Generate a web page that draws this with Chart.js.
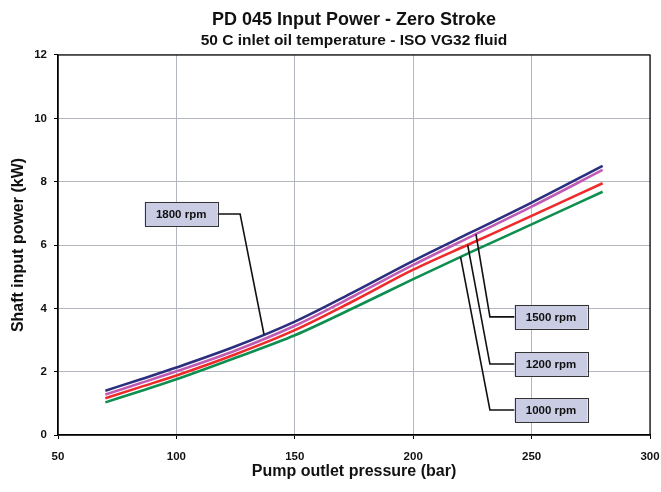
<!DOCTYPE html>
<html>
<head>
<meta charset="utf-8">
<script src="https://cdn.jsdelivr.net/npm/chart.js@4.4.1/dist/chart.umd.min.js"></script>
<style>
  html, body { margin: 0; padding: 0; background: #fff; }
  #wrap { width: 661px; height: 492px; }
</style>
</head>
<body>
<div id="wrap"><canvas id="c" width="661" height="492"></canvas></div>
<script>
// Pump outlet pressure (bar)
const pressure = [70, 85, 100, 125, 150, 175, 200, 225, 250, 280];
// Shaft input power (kW)
const rpm1800 = [1.40, 1.76, 2.13, 2.80, 3.58, 4.52, 5.50, 6.42, 7.34, 8.50];
const rpm1500 = [1.28, 1.64, 2.01, 2.67, 3.45, 4.39, 5.37, 6.29, 7.21, 8.37];
const rpm1200 = [1.16, 1.52, 1.88, 2.55, 3.31, 4.24, 5.22, 6.07, 6.92, 7.95];
const rpm1000 = [1.03, 1.39, 1.76, 2.44, 3.15, 4.02, 4.92, 5.80, 6.65, 7.68];
const seriesNames = ['1800 rpm', '1500 rpm', '1200 rpm', '1000 rpm'];
const xTicks = [50, 100, 150, 200, 250, 300];
const yTicks = [0, 2, 4, 6, 8, 10, 12];

const FONT = '"Liberation Sans", Arial, sans-serif';
const colors = ['#2b2f7e', '#c05bb4', '#ee2a2a', '#0f8f4f'];
const seriesValues = [rpm1800, rpm1500, rpm1200, rpm1000];

// Callout label placement (data units)
const callouts = [
  { series: 0, anchorX: 137,   elbowX: 126.9, boxX: 102,   boxY: 6.98 },
  { series: 1, anchorX: 226.5, elbowX: 232.4, boxX: 258.2, boxY: 3.73 },
  { series: 2, anchorX: 223,   elbowX: 232.4, boxX: 258.2, boxY: 2.24 },
  { series: 3, anchorX: 220,   elbowX: 232.4, boxX: 258.2, boxY: 0.79 }
];

function interp(xs, ys, x) {
  for (let i = 0; i < xs.length - 1; i++) {
    if (x >= xs[i] && x <= xs[i + 1]) {
      const t = (x - xs[i]) / (xs[i + 1] - xs[i]);
      return ys[i] + t * (ys[i + 1] - ys[i]);
    }
  }
  return ys[ys.length - 1];
}

const datasets = seriesValues.map((vals, i) => ({
  label: seriesNames[i],
  data: pressure.map((p, j) => ({ x: p, y: vals[j] })),
  borderColor: colors[i],
  borderWidth: 2.6,
  pointRadius: 0,
  fill: false,
  cubicInterpolationMode: 'monotone',
  order: i
})).reverse();

const framePlugin = {
  id: 'frame',
  afterDatasetsDraw(chart) {
    const { ctx, chartArea: a } = chart;
    ctx.save();
    ctx.strokeStyle = '#000';
    ctx.lineWidth = 1.2;
    ctx.strokeRect(a.left, a.top, a.right - a.left, a.bottom - a.top);
    ctx.restore();
  }
};

const calloutPlugin = {
  id: 'callouts',
  afterDatasetsDraw(chart) {
    const { ctx, scales: { x, y } } = chart;
    ctx.save();
    callouts.forEach(c => {
      const ax = x.getPixelForValue(c.anchorX);
      const ay = y.getPixelForValue(interp(pressure, seriesValues[c.series], c.anchorX));
      const bx = x.getPixelForValue(c.boxX);
      const by = y.getPixelForValue(c.boxY);
      const ex = x.getPixelForValue(c.elbowX);
      const w = 73, h = 24;
      const edgeX = ex > bx ? bx + w / 2 : bx - w / 2;
      ctx.strokeStyle = '#111';
      ctx.lineWidth = 1.6;
      ctx.beginPath();
      ctx.moveTo(edgeX, by);
      ctx.lineTo(ex, by);
      ctx.lineTo(ax, ay);
      ctx.stroke();
      ctx.fillStyle = '#c9cce3';
      ctx.fillRect(bx - w / 2, by - h / 2, w, h);
      ctx.strokeStyle = '#333';
      ctx.lineWidth = 1;
      ctx.strokeRect(Math.round(bx - w / 2) + 0.5, Math.round(by - h / 2) + 0.5, w, h);
      ctx.fillStyle = '#111';
      ctx.font = 'bold 11.5px ' + FONT;
      ctx.textAlign = 'center';
      ctx.textBaseline = 'middle';
      ctx.fillText(seriesNames[c.series], bx, by + 1);
    });
    ctx.restore();
  }
};

new Chart(document.getElementById('c'), {
  type: 'line',
  data: { datasets },
  plugins: [framePlugin, calloutPlugin],
  options: {
    responsive: false,
    animation: false,
    layout: { padding: { left: 0, right: 0, top: 0, bottom: 0 } },
    plugins: {
      legend: { display: false },
      tooltip: { enabled: false },
      title: {
        display: true,
        fullSize: false,
        text: 'PD 045 Input Power - Zero Stroke',
        color: '#111',
        font: { family: FONT, size: 18, weight: 'bold', lineHeight: 1.2 },
        padding: { top: 9, bottom: 0.6 }
      },
      subtitle: {
        display: true,
        fullSize: false,
        text: '50 C inlet oil temperature - ISO VG32 fluid',
        color: '#111',
        font: { family: FONT, size: 15.5, weight: 'bold', lineHeight: 1.2 },
        padding: { top: 0, bottom: 5.2 }
      }
    },
    scales: {
      x: {
        type: 'linear',
        min: 50, max: 300,
        afterBuildTicks(s) { s.ticks = xTicks.map(v => ({ value: v })); },
        afterFit(s) { s.height = 57; s.paddingRight = 11; s.paddingLeft = 0; },
        grid: { color: '#b3b7c0', lineWidth: 1, tickLength: 4, tickColor: '#000', drawTicks: true },
        border: { display: true, color: '#000', width: 1.2 },
        ticks: {
          color: '#111', padding: 11,
          font: { family: FONT, size: 11.5, weight: 'bold' },
          maxRotation: 0
        },
        title: {
          display: true,
          text: 'Pump outlet pressure (bar)',
          color: '#111',
          font: { family: FONT, size: 16, weight: 'bold', lineHeight: 1.2 },
          padding: { top: 0, bottom: 10.4 }
        }
      },
      y: {
        type: 'linear',
        min: 0, max: 12,
        afterBuildTicks(s) { s.ticks = yTicks.map(v => ({ value: v })); },
        afterFit(s) { s.width = 58; },
        grid: { color: '#b3b7c0', lineWidth: 1, tickLength: 4, tickColor: '#000', drawTicks: true },
        border: { display: true, color: '#000', width: 1.2 },
        ticks: {
          color: '#111', padding: 7,
          font: { family: FONT, size: 11.5, weight: 'bold' }
        },
        title: {
          display: true,
          text: 'Shaft input power (kW)',
          color: '#111',
          font: { family: FONT, size: 16, weight: 'bold', lineHeight: 1.2 },
          padding: { top: 9, bottom: 0 }
        }
      }
    }
  }
});
</script>
</body>
</html>
